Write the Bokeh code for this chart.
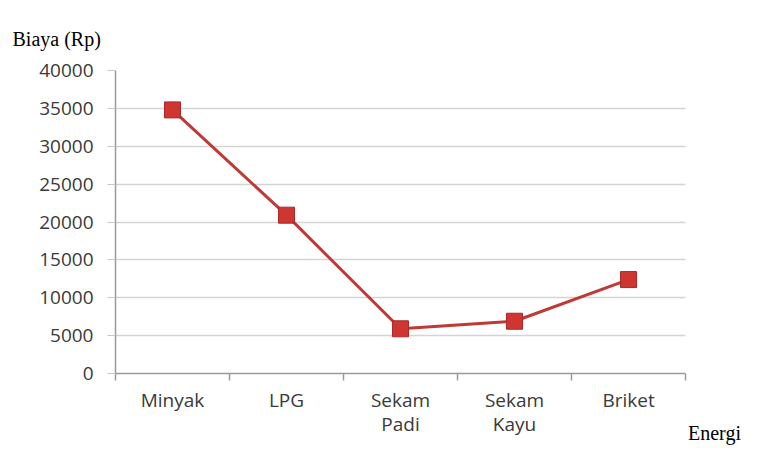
from bokeh.plotting import figure
from bokeh.models import FixedTicker, Range1d, ColumnDataSource
from bokeh.embed import file_html
from bokeh.resources import INLINE

categories = ["Minyak", "LPG", "Sekam\nPadi", "Sekam\nKayu", "Briket"]
biaya = [34800, 20900, 5900, 6900, 12400]
y_ticks = [0, 5000, 10000, 15000, 20000, 25000, 30000, 35000, 40000]
y_title = "Biaya (Rp)"
x_title = "Energi"

n = len(categories)
xs = [i + 0.5 for i in range(n)]
src = ColumnDataSource(dict(x=xs, y=biaya))

p = figure(width=741, height=447, output_backend="svg", toolbar_location=None,
           x_range=Range1d(0, 5.254), y_range=Range1d(0, 40000),
           min_border_left=115, min_border_right=27, min_border_top=70,
           min_border_bottom=20)
p.outline_line_color = None
p.background_fill_color = "white"
p.border_fill_color = "white"

p.title.text = y_title
p.title.align = "left"
p.title.offset = -103
p.title.standoff = 42
p.title.text_font = "Liberation Serif"
p.title.text_font_size = "20px"
p.title.text_font_style = "normal"
p.title.text_color = "black"

p.xgrid.grid_line_color = None
p.ygrid.grid_line_color = "#d4d4d4"
p.ygrid.grid_line_width = 1.5
p.ygrid.ticker = FixedTicker(ticks=y_ticks)
try:
    p.ygrid.cross_bounds = (0, n)
except Exception:
    pass

p.yaxis.ticker = FixedTicker(ticks=y_ticks)
p.yaxis.axis_line_color = "#9a9a9a"
p.yaxis.axis_line_width = 1.5
p.yaxis.major_tick_line_color = "#c8c8c8"
p.yaxis.major_tick_out = 8
p.yaxis.major_tick_in = 0
p.yaxis.minor_tick_line_color = None
p.yaxis.major_label_text_font = "Open Sans"
p.yaxis.major_label_text_font_size = "19px"
p.yaxis.major_label_text_color = "#3a3a3a"
p.yaxis.major_label_standoff = 14

p.xaxis.bounds = (0, n)
p.xaxis.ticker = FixedTicker(ticks=xs, minor_ticks=list(range(n + 1)))
p.xaxis.major_label_overrides = {x: c for x, c in zip(xs, categories)}
p.xaxis.axis_line_color = "#9a9a9a"
p.xaxis.axis_line_width = 1.5
p.xaxis.major_tick_line_color = None
p.xaxis.major_tick_out = 0
p.xaxis.minor_tick_line_color = "#9a9a9a"
p.xaxis.minor_tick_line_width = 1.5
p.xaxis.minor_tick_out = 7
p.xaxis.minor_tick_in = 0
p.xaxis.major_label_text_font = "Open Sans"
p.xaxis.major_label_text_font_size = "19px"
p.xaxis.major_label_text_color = "#3a3a3a"
p.xaxis.major_label_text_line_height = 0.95
p.xaxis.major_label_standoff = 6
p.xaxis.axis_label = x_title
p.xaxis.axis_label_text_font = "Liberation Serif"
p.xaxis.axis_label_text_font_size = "20px"
p.xaxis.axis_label_text_font_style = "normal"
p.xaxis.axis_label_text_color = "black"
p.xaxis.axis_label_standoff = -18
try:
    p.xaxis.axis_label_align = "end"
except Exception:
    pass

p.line("x", "y", source=src, line_color="#be3a36", line_width=3)
p.scatter("x", "y", source=src, marker="square", size=16,
          fill_color="#cf3632", line_color="#a82a28", line_width=1)

open("out.html", "w").write(file_html(p, INLINE))
